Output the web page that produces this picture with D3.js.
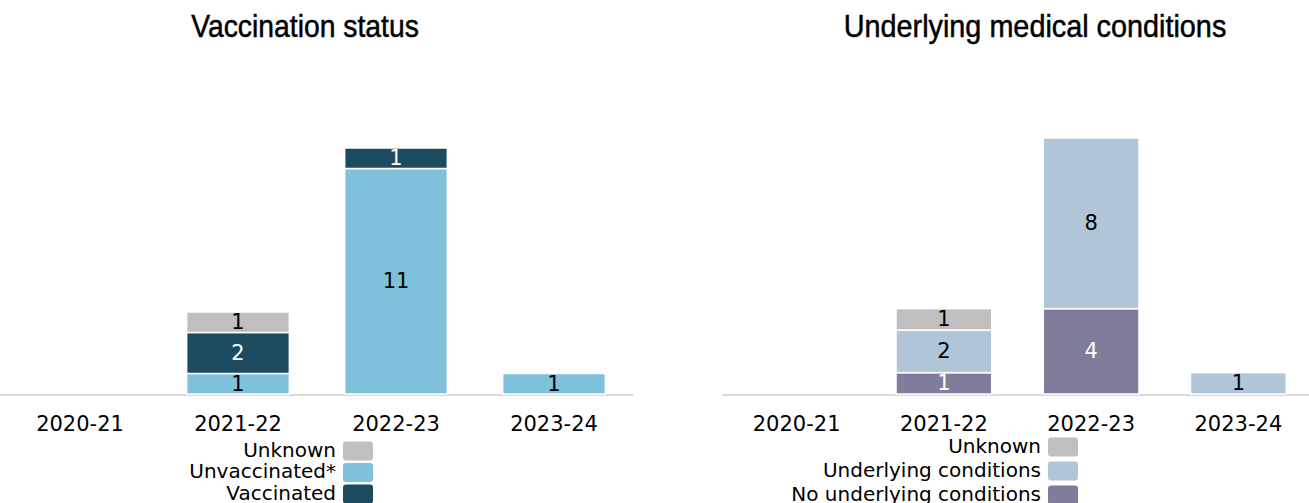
<!DOCTYPE html>
<html><head><meta charset="utf-8">
<script src="https://cdn.jsdelivr.net/npm/d3@7"></script>
<style>body{margin:0;background:#fff}svg{display:block}</style>
</head><body>
<svg id="c" width="1309" height="503"></svg>
<script>
const seasons = ["2020-21","2021-22","2022-23","2023-24"];
// Vaccination status (stack order bottom -> top)
const vaccKeys = ["Unvaccinated*","Vaccinated","Unknown"];
const vaccUnvaccinated = [0,1,11,1];
const vaccVaccinated   = [0,2,1,0];
const vaccUnknown      = [0,1,0,0];
const vaccColors = ["#7fc0db","#1c4a5e","#bfbfbf"];
const vaccText = ["#000","#fff","#000"];
const vaccLegend = ["Unknown","Unvaccinated*","Vaccinated"];
// Underlying medical conditions (stack order bottom -> top)
const condKeys = ["No underlying conditions","Underlying conditions","Unknown"];
const condNone      = [0,1,4,0];
const condUnderlying= [0,2,8,1];
const condUnknown   = [0,1,0,0];
const condColors = ["#807c9b","#b0c6d8","#bfbfbf"];
const condText = ["#fff","#000","#000"];
const condLegend = ["Unknown","Underlying conditions","No underlying conditions"];

const svg = d3.select("#c");
const FONT = "DejaVu Sans";

function chart(cfg){
  const g = svg.append("g");
  const x = d3.scaleBand().domain(seasons).range(cfg.xr).paddingInner(cfg.pad).paddingOuter(cfg.pad/2);
  const y = d3.scaleLinear().domain([0,12]).range([cfg.base, cfg.top]);
  const color = d3.scaleOrdinal().domain(cfg.keys).range(cfg.colors);
  const rows = seasons.map((s,i)=>{const o={season:s}; cfg.keys.forEach((k,j)=>o[k]=cfg.series[j][i]); return o;});
  const stack = d3.stack().keys(cfg.keys)(rows);
  g.append("line").attr("x1",cfg.lineX[0]).attr("x2",cfg.lineX[1]).attr("y1",cfg.base+1).attr("y2",cfg.base+1)
    .attr("stroke","#d9d9d9").attr("stroke-width",2);
  stack.forEach((layer,j)=>{
    layer.forEach((d,i)=>{
      const v = d[1]-d[0];
      if(v<=0) return;
      const xx = x(seasons[i]);
      g.append("rect").attr("x",xx).attr("width",x.bandwidth())
        .attr("y",y(d[1])).attr("height",y(d[0])-y(d[1]))
        .attr("fill",cfg.colors[j]).attr("stroke","#fff").attr("stroke-width",1.5);
      g.append("text").attr("x",xx+x.bandwidth()/2).attr("y",(y(d[0])+y(d[1]))/2+1)
        .attr("text-anchor","middle").attr("dominant-baseline","middle")
        .attr("font-family",FONT).attr("font-size",21).attr("fill",cfg.text[j]).text(v);
    });
  });
  const ax = g.append("g").attr("transform",`translate(0,${cfg.base})`)
    .call(d3.axisBottom(x).tickSize(0).tickPadding(0));
  ax.select(".domain").remove();
  ax.selectAll("text").attr("font-family",FONT).attr("font-size",21).attr("fill","#000").attr("dy",null).attr("y",37);
  g.append("text").attr("transform",`translate(${cfg.titleX},37) scale(${cfg.titleScale},1)`).attr("text-anchor","middle")
    .attr("font-family","Liberation Sans").attr("font-size",32).attr("fill","#000")
    .attr("stroke","#000").attr("stroke-width",0.5).text(cfg.title);
  cfg.legend.forEach((k,i)=>{
    const yy = cfg.legY + i*cfg.legStep;
    g.append("rect").attr("x",cfg.legX+7).attr("y",yy-9.5).attr("width",30).attr("height",19).attr("rx",3)
      .attr("fill",color(k));
    g.append("text").attr("x",cfg.legX).attr("y",yy).attr("text-anchor","end").attr("dominant-baseline","middle")
      .attr("font-family",FONT).attr("font-size",20).attr("fill","#000").text(k);
  });
}

chart({keys:vaccKeys, series:[vaccUnvaccinated,vaccVaccinated,vaccUnknown], colors:vaccColors, text:vaccText, legend:vaccLegend,
  xr:[1,633], pad:0.35, base:394, top:148, lineX:[0,633], title:"Vaccination status", titleX:305, titleScale:0.885,
  legX:336, legY:451, legStep:21.5});
chart({keys:condKeys, series:[condNone,condUnderlying,condUnknown], colors:condColors, text:condText, legend:condLegend,
  xr:[723,1312], pad:0.35, base:394, top:138, lineX:[722,1309], title:"Underlying medical conditions", titleX:1035, titleScale:0.9,
  legX:1041, legY:447, legStep:24});
</script>
</body></html>
